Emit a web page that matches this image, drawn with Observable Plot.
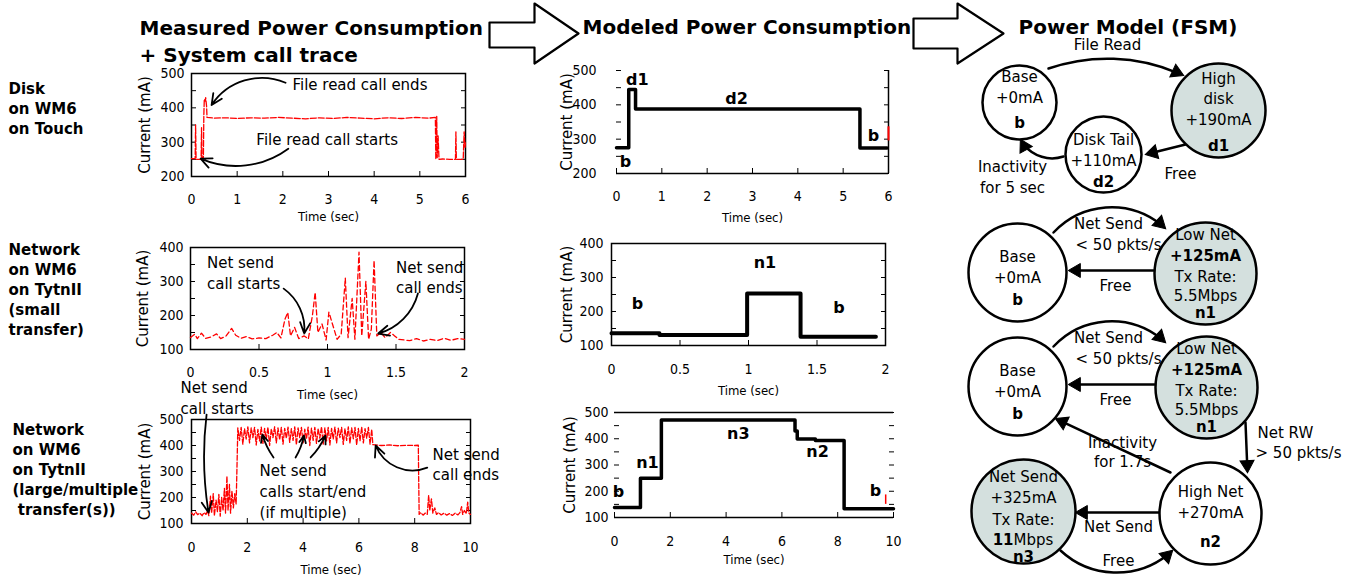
<!DOCTYPE html>
<html><head><meta charset="utf-8">
<script src="https://cdn.jsdelivr.net/npm/d3@7"></script>
<script src="https://cdn.jsdelivr.net/npm/@observablehq/plot@0.6"></script>
<style>
html,body{margin:0;padding:0;background:#fff;}
#root{position:relative;width:1359px;height:581px;overflow:hidden;}
#root svg{position:absolute;overflow:visible;}
</style></head>
<body><div id="root"></div>
<script>
// ================= DATA =================
// Measured traces: [time (sec), current (mA)]
const measuredDisk = [[0.00,252],[0.08,252],[0.09,350],[0.10,250],[0.21,250],[0.22,342],[0.23,255],[0.26,252],[0.27,378],[0.28,425],[0.30,420],[0.31,430],[0.33,405],[0.34,372],[0.50,370],[0.75,371],[1.00,369],[1.30,371],[1.60,370],[1.90,372],[2.20,370],[2.50,368],[2.80,371],[3.10,369],[3.40,372],[3.70,370],[4.00,368],[4.30,371],[4.60,369],[4.90,372],[5.20,370],[5.34,372],[5.35,250],[5.37,375],[5.38,255],[5.40,318],[5.42,250],[5.50,251],[5.65,250],[5.78,250],[5.79,330],[5.80,250],[5.95,250],[5.97,330],[5.99,285],[6.00,300]];
const measuredSmall = [[0.00,135],[0.03,145],[0.05,132],[0.08,148],[0.11,133],[0.15,137],[0.19,146],[0.22,132],[0.26,140],[0.30,162],[0.33,142],[0.37,133],[0.41,138],[0.45,131],[0.50,134],[0.55,132],[0.60,142],[0.63,150],[0.66,134],[0.69,190],[0.71,209],[0.73,140],[0.76,165],[0.79,132],[0.83,140],[0.86,131],[0.89,200],[0.91,268],[0.93,150],[0.96,175],[0.99,128],[1.01,210],[1.04,170],[1.07,130],[1.10,145],[1.13,310],[1.15,135],[1.18,250],[1.20,130],[1.23,386],[1.25,140],[1.28,300],[1.30,130],[1.32,160],[1.34,362],[1.36,140],[1.39,150],[1.42,135],[1.46,150],[1.49,140],[1.52,130],[1.56,128],[1.60,126],[1.65,132],[1.70,125],[1.75,130],[1.80,126],[1.85,133],[1.90,127],[1.95,132],[2.00,130]];
const measuredLarge = [[0.00,140],[0.08,132],[0.15,145],[0.22,134],[0.30,140],[0.38,130],[0.45,142],[0.52,135],[0.58,150],[0.62,130],[0.68,205],[0.72,140],[0.78,215],[0.82,130],[0.88,190],[0.93,145],[0.98,212],[1.03,128],[1.08,200],[1.13,150],[1.18,235],[1.22,140],[1.27,282],[1.31,150],[1.36,250],[1.40,140],[1.45,225],[1.50,160],[1.55,215],[1.60,175],[1.64,365],[1.66,468],[1.72,420],[1.78,470],[1.84,405],[1.90,465],[1.96,425],[2.02,472],[2.08,410],[2.14,468],[2.20,430],[2.26,470],[2.32,402],[2.38,462],[2.44,418],[2.50,471],[2.56,408],[2.62,466],[2.68,425],[2.74,470],[2.80,400],[2.86,464],[2.92,430],[2.98,472],[3.04,410],[3.10,468],[3.16,422],[3.22,470],[3.28,405],[3.34,466],[3.40,428],[3.46,471],[3.52,412],[3.58,465],[3.64,420],[3.70,472],[3.76,403],[3.82,468],[3.88,430],[3.94,470],[4.00,410],[4.06,463],[4.12,425],[4.18,471],[4.24,400],[4.30,467],[4.36,420],[4.42,470],[4.48,408],[4.54,465],[4.60,428],[4.66,472],[4.72,405],[4.78,468],[4.84,418],[4.90,470],[4.96,402],[5.02,466],[5.08,425],[5.14,471],[5.20,410],[5.26,467],[5.32,430],[5.38,470],[5.44,404],[5.50,465],[5.56,420],[5.62,472],[5.68,408],[5.74,468],[5.80,426],[5.86,470],[5.92,402],[5.98,466],[6.04,418],[6.10,471],[6.16,410],[6.22,465],[6.28,428],[6.34,470],[6.40,405],[6.46,462],[6.50,403],[6.80,400],[7.10,402],[7.40,399],[7.70,401],[8.00,400],[8.13,401],[8.14,298],[8.16,135],[8.22,142],[8.30,132],[8.38,140],[8.45,135],[8.50,208],[8.54,150],[8.60,195],[8.65,140],[8.72,160],[8.78,135],[8.85,142],[8.95,133],[9.05,140],[9.15,132],[9.25,138],[9.35,131],[9.45,140],[9.55,133],[9.62,142],[9.68,165],[9.72,135],[9.78,150],[9.85,138],[9.90,182],[9.94,140],[10.0,135]];

// Modeled step traces: [time (sec), current (mA)] (step-after)
const modeledDisk  = [[0,275],[0.27,445],[0.42,388],[5.37,274],[5.97,274]];
const modeledSmall = [[0,136],[0.35,131],[0.99,253],[1.38,126],[1.93,126]];
const modeledLarge = [[0,138],[0.93,250],[1.68,471],[6.47,430],[6.55,399],[7.2,393],[8.23,133],[10,133]];
const modeledRedDisk  = [{t:6.0, lo:295, hi:336}];
const modeledRedLarge = [{t:9.72, lo:150, hi:186}];

// State labels on modeled charts
const statesDisk  = [{t:0.46,mA:474,label:"d1"},{t:2.65,mA:418,label:"d2"},{t:0.2,mA:235,label:"b"},{t:5.67,mA:311,label:"b"}];
const statesSmall = [{t:0.19,mA:221,label:"b"},{t:1.12,mA:344,label:"n1"},{t:1.66,mA:212,label:"b"}];
const statesLarge = [{t:0.14,mA:198,label:"b"},{t:1.18,mA:310,label:"n1"},{t:4.44,mA:420,label:"n3"},{t:7.28,mA:351,label:"n2"},{t:9.35,mA:203,label:"b"}];

// Annotations on measured charts
const notesDisk  = [{t:2.21,mA:471,text:"File read call ends"},{t:1.42,mA:310,text:"File read call starts"}];
const arrowsDisk = [{t1:2.06,mA1:473,t2:0.44,mA2:408,bend:-40},{t1:2.12,mA1:281,t2:0.20,mA2:252,bend:30}];
const notesSmall  = [{t:0.12,mA:329,text:"Net send\ncall starts"},{t:1.50,mA:315,text:"Net send\ncall ends"}];
const arrowsSmall = [{t1:0.68,mA1:279,t2:0.83,mA2:147,bend:30},{t1:1.66,mA1:265,t2:1.37,mA2:147,bend:30}];
const notesLarge  = [{t:-0.39,mA:588,text:"Net send\ncall starts"},{t:2.44,mA:227,text:"Net send\ncalls start/end\n(if multiple)"},{t:8.64,mA:331,text:"Net send\ncall ends"}];
const arrowsLarge = [{t1:0.54,mA1:519,t2:0.61,mA2:142,bend:-8},{t1:2.94,mA1:354,t2:2.54,mA2:442,bend:10},{t1:3.73,mA1:354,t2:4.03,mA2:438,bend:-10},{t1:4.27,mA1:354,t2:4.80,mA2:438,bend:-10},{t1:8.45,mA1:315,t2:6.6,mA2:400,bend:45}];

// Tick values
const ticksTime6 = [0,1,2,3,4,5,6];
const ticksTime2 = [0,0.5,1,1.5,2];
const ticksTime10 = [0,2,4,6,8,10];
const ticksMA200_500 = [200,250,300,350,400,450,500];
const ticksMA100_400 = [100,150,200,250,300,350,400];
const ticksMA100_500 = [100,150,200,250,300,350,400,450,500];

// Page texts
const headers = [
  {x:139,y:27.6,text:"Measured Power Consumption"},
  {x:139,y:54.6,text:"+ System call trace"},
  {x:582,y:26.6,text:"Modeled Power Consumption"},
  {x:1018,y:26.6,text:"Power Model (FSM)"}
];
const rowLabels = [
  {x:8,y:107,text:"Disk\non WM6\non Touch"},
  {x:8,y:288,text:"Network\non WM6\non TytnII\n(small\ntransfer)"},
  {x:12,y:468,text:"Network\non WM6\non TytnII\n(large/multiple\n transfer(s))"}
];
const headerArrows = [
  {id:1, pts:[[489,22],[534,22],[534,3],[578,33],[534,63],[534,47],[489,47]]},
  {id:2, pts:[[913,18],[957,18],[957,3],[1003,33],[957,63],[957,48],[913,48]]}
];

// FSM diagrams
const fsmNodes = [
  {x:1019,y:102,r:37,shaded:false},{x:1218,y:110,r:47,shaded:true},{x:1103,y:154,r:38,shaded:false},
  {x:1017,y:272,r:49,shaded:false},{x:1205,y:273,r:51,shaded:true},
  {x:1017,y:386,r:49,shaded:false},{x:1206,y:387,r:51,shaded:true},
  {x:1210,y:513,r:51,shaded:false},{x:1023,y:511,r:52,shaded:true}
];
const fsmNodeText = [
  {x:1019,y:77,text:"Base"},{x:1019,y:98,text:"+0mA"},{x:1019,y:123,text:"b",bold:true},
  {x:1218,y:79,text:"High"},{x:1218,y:99,text:"disk"},{x:1218,y:120,text:"+190mA"},{x:1218,y:146,text:"d1",bold:true},
  {x:1103,y:140,text:"Disk Tail"},{x:1103,y:161,text:"+110mA"},{x:1103,y:182,text:"d2",bold:true},
  {x:1017,y:257,text:"Base"},{x:1017,y:278,text:"+0mA"},{x:1017,y:300,text:"b",bold:true},
  {x:1205,y:235,text:"Low Net"},{x:1205,y:256,text:"+125mA",bold:true},{x:1205,y:277,text:"Tx Rate:"},{x:1205,y:296,text:"5.5Mbps"},{x:1205,y:313,text:"n1",bold:true},
  {x:1017,y:371,text:"Base"},{x:1017,y:392,text:"+0mA"},{x:1017,y:414,text:"b",bold:true},
  {x:1206,y:349,text:"Low Net"},{x:1206,y:370,text:"+125mA",bold:true},{x:1206,y:391,text:"Tx Rate:"},{x:1206,y:410,text:"5.5Mbps"},{x:1206,y:427,text:"n1",bold:true},
  {x:1210,y:492,text:"High Net"},{x:1210,y:513,text:"+270mA"},{x:1210,y:542,text:"n2",bold:true},
  {x:1023,y:477,text:"Net Send"},{x:1023,y:498,text:"+325mA"},{x:1023,y:520,text:"Tx Rate:"},{x:1023,y:557,text:"n3",bold:true}
];
// "11Mbps": bold digits followed by regular unit, split at x
const fsmRate11 = [{x:1013,y:540,num:"11",unit:"Mbps"}];
const fsmEdges = [
  {x1:1048,y1:68,x2:1183,y2:75,bend:22},
  {x1:1185,y1:144,x2:1145,y2:154,bend:0},
  {x1:1063,y1:156,x2:1020,y2:139,bend:40},
  {x1:1053,y1:232,x2:1165,y2:228,bend:45},
  {x1:1153,y1:270,x2:1068,y2:270,bend:0},
  {x1:1053,y1:346,x2:1165,y2:342,bend:45},
  {x1:1154,y1:384,x2:1068,y2:384,bend:0},
  {x1:1245,y1:422,x2:1247,y2:472,bend:0},
  {x1:1170,y1:472,x2:1055,y2:418,bend:0},
  {x1:1158,y1:512,x2:1075,y2:512,bend:0},
  {x1:1060,y1:550,x2:1172,y2:550,bend:-43}
];
const fsmEdgeText = [
  {x:1107,y:45,text:"File Read",anchor:"middle"},
  {x:1180,y:174,text:"Free",anchor:"middle"},
  {x:1012,y:167,text:"Inactivity",anchor:"middle"},
  {x:1012,y:188,text:"for 5 sec",anchor:"middle"},
  {x:1108,y:224,text:"Net Send",anchor:"middle"},
  {x:1118,y:245,text:"< 50 pkts/s",anchor:"middle"},
  {x:1115,y:286,text:"Free",anchor:"middle"},
  {x:1108,y:338,text:"Net Send",anchor:"middle"},
  {x:1118,y:359,text:"< 50 pkts/s",anchor:"middle"},
  {x:1115,y:400,text:"Free",anchor:"middle"},
  {x:1257,y:433,text:"Net RW",anchor:"start"},
  {x:1255,y:453,text:"> 50 pkts/s",anchor:"start"},
  {x:1122,y:443,text:"Inactivity",anchor:"middle"},
  {x:1122,y:462,text:"for 1.7s",anchor:"middle"},
  {x:1118,y:527,text:"Net Send",anchor:"middle"},
  {x:1118,y:561,text:"Free",anchor:"middle"}
];

// ================= DRAWING =================
const root = document.getElementById("root");
const SANS = '"DejaVu Sans", sans-serif';
const NARROW = '"Liberation Sans Narrow", "DejaVu Sans Condensed", "Arial Narrow", sans-serif';
const rec = pairs => pairs.map(([t, mA]) => ({t, mA}));

// arrowhead placement (derived from edge geometry): end tangent = chord angle + bend
const HEAD_BACK = 7.8;
const heads = fsmEdges.map(e => {
  const ang = Math.atan2(e.y2 - e.y1, e.x2 - e.x1) + e.bend * Math.PI / 180;
  return {x: e.x2 - HEAD_BACK * Math.cos(ang), y: e.y2 - HEAD_BACK * Math.sin(ang), rot: ang * 180 / Math.PI + 90};
});

// Overlay: headers, row labels, block arrows, FSM diagrams
const arrowPts = headerArrows.flatMap(a => a.pts.map(([x, y]) => ({id: a.id, x, y})));
const overlay = Plot.plot({
  width: 1359, height: 581, margin: 0,
  x: {domain: [0, 1359], range: [0, 1359], axis: null},
  y: {domain: [0, 581], range: [0, 581], axis: null},
  r: {type: "identity"},
  style: {background: "white", fontFamily: SANS, fontSize: "15px", color: "black"},
  marks: [
    Plot.line(arrowPts, {x: "x", y: "y", z: "id", curve: "linear-closed", fill: "white", stroke: "black", strokeWidth: 2.2}),
    Plot.text(headers, {x: "x", y: "y", text: "text", textAnchor: "start", fontWeight: "bold", fontSize: 20}),
    Plot.text(rowLabels, {x: "x", y: "y", text: "text", textAnchor: "start", fontWeight: "bold", fontSize: 15, lineHeight: 1.333}),
    ...fsmEdges.map(e => Plot.arrow([e], {x1: "x1", y1: "y1", x2: "x2", y2: "y2", bend: e.bend, stroke: "black", strokeWidth: 2.5, headLength: 0, insetEnd: 6})),
    ...heads.map(h => Plot.dot([h], {x: "x", y: "y", r: 5.2, symbol: "triangle", rotate: h.rot, fill: "black", stroke: "black", strokeWidth: 1})),
    Plot.dot(fsmNodes.filter(d => !d.shaded), {x: "x", y: "y", r: "r", fill: "white", stroke: "black", strokeWidth: 2.5}),
    Plot.dot(fsmNodes.filter(d => d.shaded), {x: "x", y: "y", r: "r", fill: "#d4e0de", stroke: "black", strokeWidth: 2.5}),
    Plot.text(fsmNodeText.filter(d => !d.bold), {x: "x", y: "y", text: "text", fontSize: 15}),
    Plot.text(fsmNodeText.filter(d => d.bold), {x: "x", y: "y", text: "text", fontSize: 15, fontWeight: "bold"}),
    Plot.text(fsmRate11, {x: "x", y: "y", text: "num", fontSize: 15, fontWeight: "bold", textAnchor: "end"}),
    Plot.text(fsmRate11, {x: "x", y: "y", text: "unit", fontSize: 15, textAnchor: "start"}),
    Plot.text(fsmEdgeText.filter(d => d.anchor === "middle"), {x: "x", y: "y", text: "text", fontSize: 15}),
    Plot.text(fsmEdgeText.filter(d => d.anchor === "start"), {x: "x", y: "y", text: "text", fontSize: 15, textAnchor: "start"})
  ]
});
overlay.style.left = "0px"; overlay.style.top = "0px";
root.appendChild(overlay);

function chart({box, xDomain, yDomain, xTicks, yTicks, yGap, xGap, yLabelDx, xLabelDy, border, marks}) {
  const m = {l: 90, r: 60, t: 55, b: 60};
  const tk = 5;
  const W = box.x1 - box.x0 + m.l + m.r, H = box.y1 - box.y0 + m.t + m.b;
  const borderMarks = [];
  if (border === "frame") borderMarks.push(Plot.frame({stroke: "black", strokeWidth: 1.5}));
  if (border === "bottomRight") borderMarks.push(Plot.ruleY([yDomain[0]], {strokeWidth: 1.5}), Plot.ruleX([xDomain[1]], {strokeWidth: 1.5}));
  if (border === "topBottom") borderMarks.push(Plot.ruleY(yDomain, {strokeWidth: 1.5}));
  const svg = Plot.plot({
    width: W, height: H,
    marginLeft: m.l, marginRight: m.r, marginTop: m.t, marginBottom: m.b,
    x: {domain: xDomain, label: null},
    y: {domain: yDomain, label: null},
    style: {background: "transparent", fontFamily: NARROW, fontSize: "14px", color: "black", overflow: "visible"},
    marks: [
      ...borderMarks,
      Plot.axisY({anchor: "left", ticks: yTicks, tickSize: -tk, tickPadding: tk + yGap, tickFormat: d => d % 100 === 0 ? String(d) : "", label: null}),
      Plot.axisY({anchor: "right", ticks: yTicks, tickSize: -tk, tickFormat: () => "", label: null}),
      Plot.axisX({anchor: "bottom", ticks: xTicks, tickSize: -tk, tickPadding: tk + xGap, tickFormat: d => String(d), label: null}),
      Plot.text(["Current (mA)"], {frameAnchor: "left", dx: yLabelDx, rotate: -90, textAnchor: "middle", fontFamily: SANS, fontSize: 15}),
      Plot.text(["Time (sec)"], {frameAnchor: "bottom", dy: xLabelDy, textAnchor: "middle", fontSize: 13}),
      ...marks
    ]
  });
  svg.style.left = (box.x0 - m.l) + "px";
  svg.style.top = (box.y0 - m.t) + "px";
  root.appendChild(svg);
}

const noteMarks = (notes, arrows) => [
  Plot.text(notes, {x: "t", y: "mA", text: "text", textAnchor: "start", fontFamily: SANS, fontSize: 15, lineHeight: 1.38}),
  ...arrows.map(a => Plot.arrow([a], {x1: "t1", y1: "mA1", x2: "t2", y2: "mA2", bend: a.bend, stroke: "black", strokeWidth: 1.8, headLength: 10, headAngle: 50}))
];
const stateMarks = states => Plot.text(states, {x: "t", y: "mA", text: "label", fontFamily: SANS, fontWeight: "bold", fontSize: 16});

// Measured
chart({box: {x0:191, x1:465, y0:73, y1:176}, xDomain: [0,6], yDomain: [200,500], xTicks: ticksTime6, yTicks: ticksMA200_500,
  yGap: 7, xGap: 18, yLabelDx: -46, xLabelDy: 44, border: "frame",
  marks: [Plot.line(rec(measuredDisk), {x: "t", y: "mA", stroke: "#ff0000", strokeWidth: 1.3, strokeDasharray: "6,2"}), ...noteMarks(notesDisk, arrowsDisk)]});
chart({box: {x0:190, x1:464, y0:247, y1:349}, xDomain: [0,2], yDomain: [100,400], xTicks: ticksTime2, yTicks: ticksMA100_400,
  yGap: 7, xGap: 18, yLabelDx: -47, xLabelDy: 49, border: "frame",
  marks: [Plot.line(rec(measuredSmall), {x: "t", y: "mA", stroke: "#ff0000", strokeWidth: 1.3, strokeDasharray: "5,3"}), ...noteMarks(notesSmall, arrowsSmall)]});
chart({box: {x0:191, x1:470, y0:419, y1:523}, xDomain: [0,10], yDomain: [100,500], xTicks: ticksTime10, yTicks: ticksMA100_500,
  yGap: 8, xGap: 19, yLabelDx: -46, xLabelDy: 50, border: "frame",
  marks: [Plot.line(rec(measuredLarge), {x: "t", y: "mA", stroke: "#ff0000", strokeWidth: 1.3, strokeDasharray: "5,2"}), ...noteMarks(notesLarge, arrowsLarge)]});

// Modeled
chart({box: {x0:616, x1:888, y0:70, y1:173}, xDomain: [0,6], yDomain: [200,500], xTicks: ticksTime6, yTicks: ticksMA200_500,
  yGap: 20, xGap: 18, yLabelDx: -49, xLabelDy: 48, border: "bottomRight",
  marks: [Plot.line(rec(modeledDisk), {x: "t", y: "mA", curve: "step-after", stroke: "black", strokeWidth: 3.5}),
          Plot.ruleX(modeledRedDisk, {x: "t", y1: "lo", y2: "hi", stroke: "#ff0000", strokeWidth: 2}),
          stateMarks(statesDisk)]});
chart({box: {x0:611, x1:885, y0:243, y1:345}, xDomain: [0,2], yDomain: [100,400], xTicks: ticksTime2, yTicks: ticksMA100_400,
  yGap: 8, xGap: 19, yLabelDx: -44, xLabelDy: 49, border: "frame",
  marks: [Plot.line(rec(modeledSmall), {x: "t", y: "mA", curve: "step-after", stroke: "black", strokeWidth: 4}), stateMarks(statesSmall)]});
chart({box: {x0:614, x1:893, y0:412, y1:517}, xDomain: [0,10], yDomain: [100,500], xTicks: ticksTime10, yTicks: ticksMA100_500,
  yGap: 6, xGap: 19, yLabelDx: -44, xLabelDy: 46, border: "topBottom",
  marks: [Plot.line(rec(modeledLarge), {x: "t", y: "mA", curve: "step-after", stroke: "black", strokeWidth: 3.5}),
          Plot.ruleX(modeledRedLarge, {x: "t", y1: "lo", y2: "hi", stroke: "#ff0000", strokeWidth: 1.5}),
          stateMarks(statesLarge)]});
</script>
</body></html>
